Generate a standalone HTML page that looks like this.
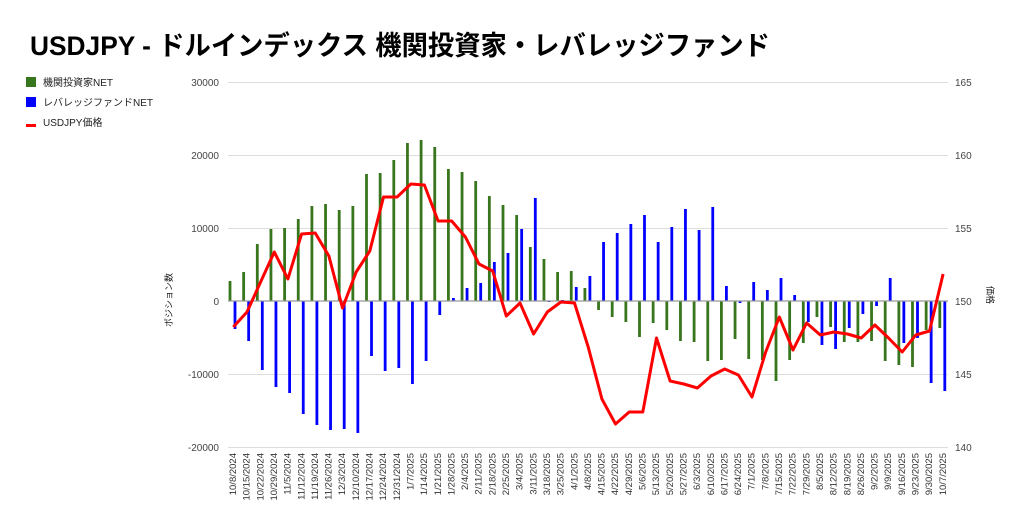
<!DOCTYPE html>
<html><head><meta charset="utf-8"><style>
body{margin:0;background:#fff;}
svg{display:block;font-family:"Liberation Sans","Noto Sans CJK JP",sans-serif;}
</style></head><body>
<svg id="s" width="1024" height="528" xmlns="http://www.w3.org/2000/svg">
<text x="30" y="55" font-size="27" font-weight="bold" fill="#000" textLength="740" lengthAdjust="spacingAndGlyphs">USDJPY - ドルインデックス 機関投資家・レバレッジファンド</text>
<rect x="26" y="77" width="10" height="10" fill="#38761d"/>
<text x="43" y="86" font-size="10" fill="#222">機関投資家NET</text>
<rect x="26" y="97" width="10" height="10" fill="#0000ff"/>
<text x="43" y="106" font-size="10" fill="#222">レバレッジファンドNET</text>
<rect x="26" y="124" width="10" height="3" fill="#ff0000"/>
<text x="43" y="126" font-size="10" fill="#222">USDJPY価格</text>
<g stroke="#ddd" stroke-width="1">
<line x1="228" y1="82.5" x2="948" y2="82.5"/><line x1="228" y1="155.5" x2="948" y2="155.5"/>
<line x1="228" y1="228.5" x2="948" y2="228.5"/><line x1="228" y1="374.5" x2="948" y2="374.5"/>
<line x1="228" y1="447.5" x2="948" y2="447.5"/>
</g>
<g font-size="10" fill="#444" text-anchor="end">
<text x="219" y="86">30000</text><text x="219" y="159">20000</text><text x="219" y="232">10000</text>
<text x="219" y="305">0</text><text x="219" y="378">-10000</text><text x="219" y="451">-20000</text>
</g>
<g font-size="10" fill="#444">
<text x="955" y="86">165</text><text x="955" y="159">160</text><text x="955" y="232">155</text>
<text x="955" y="305">150</text><text x="955" y="378">145</text><text x="955" y="451">140</text>
</g>
<text transform="translate(172,300) rotate(-90)" font-size="9" fill="#222" text-anchor="middle">ポジション数</text>
<text transform="translate(987,295) rotate(90)" font-size="9" fill="#222" text-anchor="middle">価格</text>
<g id="bars"></g>
<line x1="228" y1="301" x2="948" y2="301" stroke="#999" stroke-width="1.2"/>
<polyline id="red" fill="none" stroke="#ff0000" stroke-width="3" stroke-linejoin="round"/>
<g font-size="9.5" fill="#333" text-anchor="end" id="dates">
<text transform="translate(236,453) rotate(-90)">10/8/2024</text>
<text transform="translate(249.6,453) rotate(-90)">10/15/2024</text>
<text transform="translate(263.3,453) rotate(-90)">10/22/2024</text>
<text transform="translate(277,453) rotate(-90)">10/29/2024</text>
<text transform="translate(290.6,453) rotate(-90)">11/5/2024</text>
<text transform="translate(304.3,453) rotate(-90)">11/12/2024</text>
<text transform="translate(317.9,453) rotate(-90)">11/19/2024</text>
<text transform="translate(331.6,453) rotate(-90)">11/26/2024</text>
<text transform="translate(345.2,453) rotate(-90)">12/3/2024</text>
<text transform="translate(358.9,453) rotate(-90)">12/10/2024</text>
<text transform="translate(372.5,453) rotate(-90)">12/17/2024</text>
<text transform="translate(386.2,453) rotate(-90)">12/24/2024</text>
<text transform="translate(399.8,453) rotate(-90)">12/31/2024</text>
<text transform="translate(413.5,453) rotate(-90)">1/7/2025</text>
<text transform="translate(427.1,453) rotate(-90)">1/14/2025</text>
<text transform="translate(440.8,453) rotate(-90)">1/21/2025</text>
<text transform="translate(454.4,453) rotate(-90)">1/28/2025</text>
<text transform="translate(468.1,453) rotate(-90)">2/4/2025</text>
<text transform="translate(481.7,453) rotate(-90)">2/11/2025</text>
<text transform="translate(495.4,453) rotate(-90)">2/18/2025</text>
<text transform="translate(509,453) rotate(-90)">2/25/2025</text>
<text transform="translate(522.7,453) rotate(-90)">3/4/2025</text>
<text transform="translate(536.3,453) rotate(-90)">3/11/2025</text>
<text transform="translate(550,453) rotate(-90)">3/18/2025</text>
<text transform="translate(563.6,453) rotate(-90)">3/25/2025</text>
<text transform="translate(577.3,453) rotate(-90)">4/1/2025</text>
<text transform="translate(590.9,453) rotate(-90)">4/8/2025</text>
<text transform="translate(604.6,453) rotate(-90)">4/15/2025</text>
<text transform="translate(618.2,453) rotate(-90)">4/22/2025</text>
<text transform="translate(631.9,453) rotate(-90)">4/29/2025</text>
<text transform="translate(645.5,453) rotate(-90)">5/6/2025</text>
<text transform="translate(659.2,453) rotate(-90)">5/13/2025</text>
<text transform="translate(672.8,453) rotate(-90)">5/20/2025</text>
<text transform="translate(686.5,453) rotate(-90)">5/27/2025</text>
<text transform="translate(700.1,453) rotate(-90)">6/3/2025</text>
<text transform="translate(713.8,453) rotate(-90)">6/10/2025</text>
<text transform="translate(727.4,453) rotate(-90)">6/17/2025</text>
<text transform="translate(741.1,453) rotate(-90)">6/24/2025</text>
<text transform="translate(754.7,453) rotate(-90)">7/1/2025</text>
<text transform="translate(768.4,453) rotate(-90)">7/8/2025</text>
<text transform="translate(782,453) rotate(-90)">7/15/2025</text>
<text transform="translate(795.7,453) rotate(-90)">7/22/2025</text>
<text transform="translate(809.3,453) rotate(-90)">7/29/2025</text>
<text transform="translate(823,453) rotate(-90)">8/5/2025</text>
<text transform="translate(836.6,453) rotate(-90)">8/12/2025</text>
<text transform="translate(850.3,453) rotate(-90)">8/19/2025</text>
<text transform="translate(863.9,453) rotate(-90)">8/26/2025</text>
<text transform="translate(877.6,453) rotate(-90)">9/2/2025</text>
<text transform="translate(891.2,453) rotate(-90)">9/9/2025</text>
<text transform="translate(904.9,453) rotate(-90)">9/16/2025</text>
<text transform="translate(918.5,453) rotate(-90)">9/23/2025</text>
<text transform="translate(932.2,453) rotate(-90)">9/30/2025</text>
<text transform="translate(945.8,453) rotate(-90)">10/7/2025</text>
</g>
</svg>
<script>
var G=[281,272,244,229,228,219,206,204,210,206,174,173,160,143,140,147,169,172,181,196,205,215,247,259,272,271,288,310,317,322,337,323,330,341,342,361,360,339,359,360,381,360,343,317,327,342,342,341,361,365,367,330,328];
var B=[329,341,370,387,393,414,425,430,429,433,356,371,368,384,361,315,298,288,283,262,253,229,198,302,300,287,276,242,233,224,215,242,227,209,230,207,286,303,282,290,278,295,322,345,349,328,314,306,278,343,338,383,391];
var R=[327,312,282,252,279,234,233,256,308,272,251,197,197,184,185,221,221,237,264,271,316,303,334,312,302,303,347,399,424,412,412,338,381,384,388,376,369,375,397,352,317,350,323,335,332,334,338,325,338,352,335,331,274];
var ns="http://www.w3.org/2000/svg",g=document.getElementById("bars"),pts=[];
function bar(x,y,c){var r=document.createElementNS(ns,"rect");var t=Math.min(y,301),h=Math.abs(y-301);r.setAttribute("x",x-1.4);r.setAttribute("y",t);r.setAttribute("width",2.8);r.setAttribute("height",Math.max(h,0.8));r.setAttribute("fill",c);g.appendChild(r);}
for(var i=0;i<53;i++){var x=233.3+i*13.65;bar(x-3.3,G[i],"#38761d");bar(x+1.7,B[i],"#0000ff");pts.push(x.toFixed(1)+","+R[i]);}
document.getElementById("red").setAttribute("points",pts.join(" "));
</script>
</body></html>
